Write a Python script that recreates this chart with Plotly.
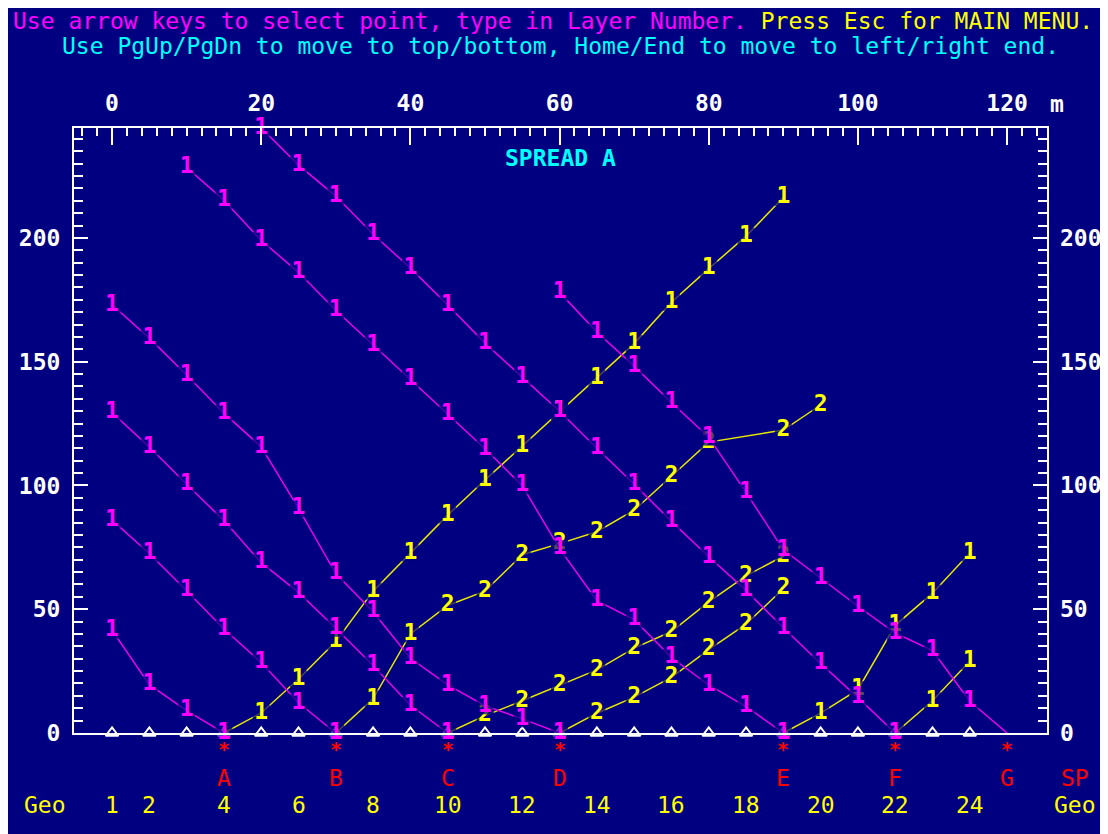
import plotly.graph_objects as go

# ---------------- data ----------------
# geophone positions (m) and their numbers
geo_x = [0, 5, 10, 15, 20, 25, 30, 35, 40, 45, 50, 55, 60, 65, 70, 75, 80, 85, 90, 95, 100, 105, 110, 115]
geo_num = [1, 2, 3, 4, 5, 6, 7, 8, 9, 10, 11, 12, 13, 14, 15, 16, 17, 18, 19, 20, 21, 22, 23, 24]
geo_shown = [1, 2, 4, 6, 8, 10, 12, 14, 16, 18, 20, 22, 24]

# shot points
shot_names = ["A", "B", "C", "D", "E", "F", "G"]
shot_x = [15, 30, 45, 60, 90, 105, 120]

# y tick values (ms)
y_ticks = [0, 50, 100, 150, 200]

# travel times (ms) - reverse branches (magenta), layer labels
A_rev_x = [0, 5, 10, 15]
A_rev_t = [41.5, 19.5, 9.0, 0]
A_rev_lab = ["1", "1", "1", "1"]

B_rev_x = [0, 5, 10, 15, 20, 25, 30]
B_rev_t = [86.0, 72.5, 57.5, 42.0, 28.5, 12.2, 0]
B_rev_lab = ["1", "1", "1", "1", "1", "1", "1"]

C_rev_x = [0, 5, 10, 15, 20, 25, 30, 35, 40, 45]
C_rev_t = [129.5, 115.5, 100.5, 85.8, 68.8, 56.8, 42.3, 27.3, 11.2, 0]
C_rev_lab = ["1", "1", "1", "1", "1", "1", "1", "1", "1", "1"]

D_rev_x = [0, 5, 10, 15, 20, 25, 30, 35, 40, 45, 50, 55, 60]
D_rev_t = [173.0, 159.5, 144.6, 129.2, 115.6, 90.7, 64.4, 49.0, 30.2, 19.4, 11.0, 5.7, 0]
D_rev_lab = ["1", "1", "1", "1", "1", "1", "1", "1", "1", "1", "1", "1", "1"]

E_rev_x = [10, 15, 20, 25, 30, 35, 40, 45, 50, 55, 60, 65, 70, 75, 80, 85, 90]
E_rev_t = [228.5, 215.2, 199.0, 186.1, 170.8, 156.7, 142.8, 128.7, 114.8, 99.9,
           74.5, 53.5, 45.8, 30.5, 19.4, 10.7, 0]
E_rev_lab = ["1", "1", "1", "1", "1", "1", "1", "1", "1", "1",
             "1", "1", "1", "1", "1", "1", "1"]

F_rev_x = [20, 25, 30, 35, 40, 45, 50, 55, 60, 65, 70, 75, 80, 85, 90, 95, 100, 105]
F_rev_t = [244.4, 229.4, 216.9, 201.5, 187.8, 172.9, 157.5, 143.8, 130.0, 115.0,
           100.5, 85.5, 71.2, 57.6, 42.5, 28.1, 14.3, 0]
F_rev_lab = ["1", "1", "1", "1", "1", "1", "1", "1", "1", "1",
             "1", "1", "1", "1", "1", "1", "1", "1"]

G_rev_x = [60, 65, 70, 75, 80, 85, 90, 95, 100, 105, 110, 115, 120]
G_rev_t = [178.0, 162.0, 148.2, 133.5, 119.5, 97.2, 74.0, 62.6, 51.2, 40.4, 33.3, 12.8, 0]
G_rev_lab = ["1", "1", "1", "1", "1", "1", "1", "1", "1", "1", "1", "1", ""]

# forward branches (yellow)
A_fwd_x = [15, 20, 25, 30, 35, 40, 45, 50, 55, 60, 65, 70, 75, 80, 85, 90]
A_fwd_t = [0, 8.1, 21.8, 37.0, 57.3, 72.7, 88.0, 102.2, 116.0, 130.0, 143.4, 157.3, 174.0, 187.6, 200.7, 216.3]
A_fwd_lab = ["", "1", "1", "1", "1", "1", "1", "1", "1", "1", "1", "1", "1", "1", "1", "1"]

B_fwd_x = [30, 35, 40, 45, 50, 55, 60, 65, 70, 75, 80, 90, 95]
B_fwd_t = [0, 13.8, 40.0, 51.5, 57.3, 72.0, 76.5, 81.3, 90.0, 103.6, 117.5, 122.4, 132.5]
B_fwd_lab = ["", "1", "1", "2", "2", "2", "2", "2", "2", "2", "2", "2", "2"]

C_fwd_x = [45, 50, 55, 60, 65, 70, 75, 80, 85, 90]
C_fwd_t = [0, 7.0, 13.0, 19.4, 25.5, 34.3, 41.0, 53.0, 63.5, 71.5]
C_fwd_lab = ["", "2", "2", "2", "2", "2", "2", "2", "2", "2"]

D_fwd_x = [60, 65, 70, 75, 80, 85, 90]
D_fwd_t = [0, 8.0, 14.5, 22.5, 33.7, 44.0, 58.3]
D_fwd_lab = ["", "2", "2", "2", "2", "2", "2"]

E_fwd_x = [90, 95, 100, 105, 110, 115]
E_fwd_t = [0, 8.0, 17.5, 43.5, 56.5, 72.7]
E_fwd_lab = ["", "1", "1", "1", "1", "1"]

F_fwd_x = [105, 110, 115]
F_fwd_t = [0, 13.0, 29.0]
F_fwd_lab = ["", "1", "1"]

# ---------------- style ----------------
BG = "#000080"
MAG = "#FF00FF"
YEL = "#FFFF00"
CYA = "#00FFFF"
RED = "#FF0000"
WHITE = "#FFFFFF"
FONT = "DejaVu Sans Mono"
FS = 23
X_RANGE = [-5.1, 125.35]
Y_RANGE = [0, 244.4]

fig = go.Figure()

# geophones
fig.add_trace(go.Scatter(
    x=geo_x, y=[0] * len(geo_x), mode="markers",
    marker=dict(symbol="triangle-up", size=11, color=BG, line=dict(color=WHITE, width=2)),
    hoverinfo="skip", showlegend=False, cliponaxis=False))


def branch(xs, ts, labs, color, lcolor):
    sizes = [17 if l else 0 for l in labs]
    fig.add_trace(go.Scatter(
        x=xs, y=ts, mode="lines+markers+text", text=labs,
        textposition="middle center",
        textfont=dict(family=FONT, size=FS, color=color, weight="bold"),
        line=dict(color=lcolor, width=1.5),
        marker=dict(symbol="square", size=sizes, color=BG, line=dict(width=0)),
        hoverinfo="skip", showlegend=False, cliponaxis=False))


branches = [
    (A_fwd_x, A_fwd_t, A_fwd_lab, "fwd"), (A_rev_x, A_rev_t, A_rev_lab, "rev"),
    (B_fwd_x, B_fwd_t, B_fwd_lab, "fwd"), (B_rev_x, B_rev_t, B_rev_lab, "rev"),
    (C_fwd_x, C_fwd_t, C_fwd_lab, "fwd"), (C_rev_x, C_rev_t, C_rev_lab, "rev"),
    (D_fwd_x, D_fwd_t, D_fwd_lab, "fwd"), (D_rev_x, D_rev_t, D_rev_lab, "rev"),
    (E_fwd_x, E_fwd_t, E_fwd_lab, "fwd"), (E_rev_x, E_rev_t, E_rev_lab, "rev"),
    (F_fwd_x, F_fwd_t, F_fwd_lab, "fwd"), (F_rev_x, F_rev_t, F_rev_lab, "rev"),
    (G_rev_x, G_rev_t, G_rev_lab, "rev"),
]
for xs, ts, labs, kind in branches:
    if kind == "fwd":
        branch(xs, ts, labs, YEL, "#E8E800")
    else:
        branch(xs, ts, labs, MAG, "#E800E8")

annotations = []


def note(text, x, y, color, xref="x", yref="paper", bold=False, size=FS, xanchor="center", xshift=0):
    f = dict(family=FONT, size=size, color=color)
    if bold:
        f["weight"] = "bold"
    annotations.append(dict(xref=xref, yref=yref, x=x, y=y, text=text, showarrow=False,
                            xanchor=xanchor, yanchor="middle", xshift=xshift, font=f))


# rows below the spread (paper y positions under the plot)
ROW_STAR = -0.026
ROW_SP = -0.0744
ROW_GEO = -0.119
for nm, sx in zip(shot_names, shot_x):
    note("*", sx, ROW_STAR, RED, size=20, bold=True)
    note(nm, sx, ROW_SP, RED)
note("SP", 1.0288, ROW_SP, RED, xref="paper")
for n in geo_shown:
    note(str(n), geo_x[geo_num.index(n)], ROW_GEO, YEL)
note("Geo", -0.0298, ROW_GEO, YEL, xref="paper")
note("Geo", 1.0288, ROW_GEO, YEL, xref="paper")

# right-hand tick labels
for v in y_ticks:
    note(str(v), 1.0, v, WHITE, xref="paper", yref="y", bold=True, xanchor="left", xshift=11)

# header lines, unit and spread title
note(f'<span style="color:{MAG}">Use arrow keys to select point, type in Layer Number.</span>'
     f'<span style="color:{YEL}"> Press Esc for MAIN MENU.</span>',
     0.4923, 1.1769, MAG, xref="paper")
note("Use PgUp/PgDn to move to top/bottom, Home/End to move to left/right end.",
     0.4995, 1.1356, CYA, xref="paper")
note("m", 1.0103, 1.0397, WHITE, xref="paper", bold=True)
note("SPREAD A", 0.4995, 0.9504, CYA, xref="paper", bold=True)

tickfont = dict(family=FONT, size=FS, color=WHITE, weight="bold")
fig.update_layout(
    width=1100, height=826,
    margin=dict(l=66, r=61, t=120, b=101),
    paper_bgcolor=BG, plot_bgcolor=BG,
    xaxis=dict(range=X_RANGE, side="top", showgrid=False, zeroline=False,
               ticks="inside", ticklen=17, tickwidth=2, tickcolor=WHITE,
               tick0=0, dtick=20, tickfont=tickfont, ticklabelstandoff=6,
               showline=True, linecolor=WHITE, linewidth=2, mirror=True,
               minor=dict(tick0=0, dtick=2, ticks="inside", ticklen=8, tickwidth=2,
                          tickcolor=WHITE, showgrid=False)),
    yaxis=dict(range=Y_RANGE, showgrid=False, zeroline=False,
               ticks="inside", ticklen=14, tickwidth=2, tickcolor=WHITE,
               tickvals=y_ticks, tickfont=tickfont, ticklabelstandoff=7,
               showline=True, linecolor=WHITE, linewidth=2, mirror="ticks",
               minor=dict(tick0=0, dtick=5, ticks="inside", ticklen=9, tickwidth=2,
                          tickcolor=WHITE, showgrid=False)),
    annotations=annotations,
)

fig.write_html("out.html")
